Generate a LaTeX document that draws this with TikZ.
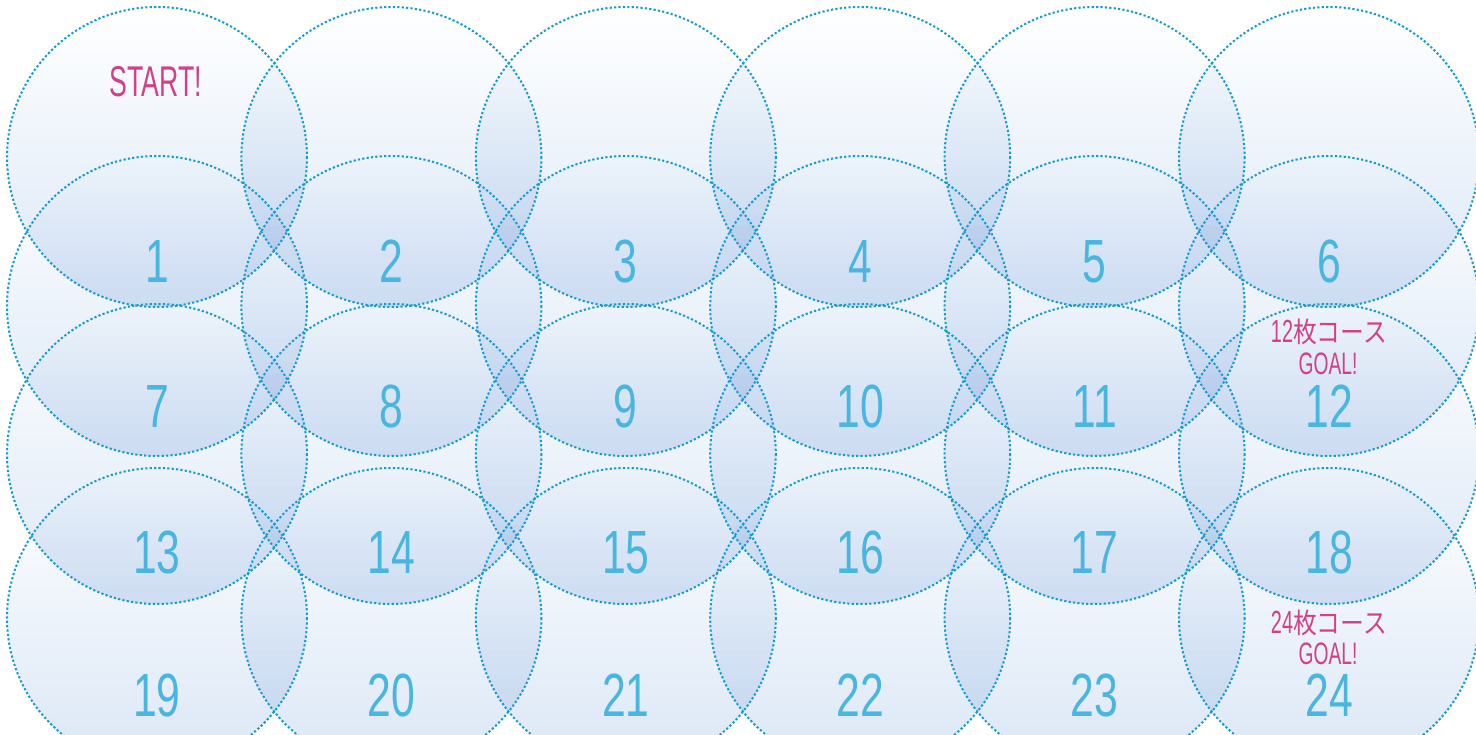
\documentclass[tikz,border=0pt]{standalone}
\usepackage{fontspec}
\newfontfamily\numfont[FakeStretch=0.7]{Liberation Sans}
\newfontfamily\magfont[FakeStretch=0.62]{Liberation Sans}
\newfontfamily\jpfont[FakeStretch=0.85]{Noto Sans CJK JP}
\definecolor{circB}{RGB}{219,231,246}
\definecolor{dotblue}{RGB}{20,155,210}
\definecolor{numblue}{RGB}{72,182,224}
\definecolor{magenta}{RGB}{208,65,137}
\tikzset{
  ring/.style={draw=dotblue,line width=2pt,line cap=butt,dash pattern=on 2.2pt off 2.2pt},
  num/.style={anchor=base,inner sep=0pt,text=numblue,font=\numfont\fontsize{61}{61}\selectfont},
  mag/.style={anchor=base,inner sep=0pt,text=magenta},
}
\begin{document}
\begin{tikzpicture}[x=1pt,y=-1pt]
\useasboundingbox (0,0) rectangle (1476,735);
\fill[white] (0,0) rectangle (1476,735);
\begin{scope}
\clip (0,0) rectangle (1476,735);
\begin{scope}[blend mode=multiply]
\foreach \i in {0,...,5}{
  \foreach \y in {157,306,454,618}{
    \shade[top color=white,bottom color=circB] ({157+234.4*\i},\y) circle[radius=150];
  }
}
\end{scope}
\foreach \i in {0,...,5}{
  \foreach \y in {157,306,454,618}{
    \draw[ring] ({157+234.4*\i},\y) circle[radius=150];
  }
}
\end{scope}
% numbers
\foreach \i in {0,...,5}{
  \pgfmathtruncatemacro{\a}{\i+1}
  \pgfmathtruncatemacro{\b}{\i+7}
  \pgfmathtruncatemacro{\c}{\i+13}
  \pgfmathtruncatemacro{\d}{\i+19}
  \node[num] (n\a) at ({157+234.4*\i},283) {\a};
  \node[num] (n\b) at ({157+234.4*\i},428) {\b};
  \node[num] (n\c) at ({157+234.4*\i},573) {\c};
  \node[num] (n\d) at ({157+234.4*\i},716) {\d};
}
\node[mag,font=\magfont\fontsize{43}{43}\selectfont] (start) at (156,97) {START!};
\node[mag] (c12) at (1329,343) {\magfont\fontsize{32}{32}\selectfont 12\jpfont\fontsize{28}{28}\selectfont 枚コース};
\node[mag,font=\magfont\fontsize{31}{31}\selectfont] (g12) at (1328,375) {GOAL!};
\node[mag] (c24) at (1329,633) {\magfont\fontsize{32}{32}\selectfont 24\jpfont\fontsize{28}{28}\selectfont 枚コース};
\node[mag,font=\magfont\fontsize{31}{31}\selectfont] (g24) at (1328,664) {GOAL!};
\end{tikzpicture}
\end{document}
